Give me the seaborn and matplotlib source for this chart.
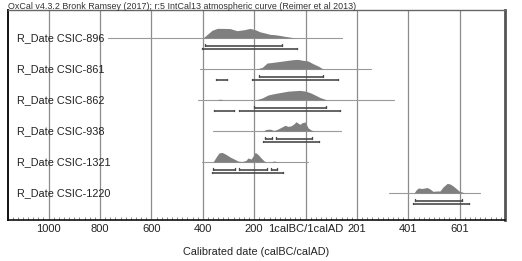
import numpy as np
import pandas as pd
import seaborn as sns
import matplotlib
matplotlib.use("Agg")
import matplotlib.pyplot as plt
from matplotlib.ticker import MultipleLocator

# ---- data (calendar axis: negative = calBC, 0 = 1calBC/1calAD) ----
labels = ["R_Date CSIC-896", "R_Date CSIC-861", "R_Date CSIC-862",
          "R_Date CSIC-938", "R_Date CSIC-1321", "R_Date CSIC-1220"]

dist_years = [
    [-399, -379, -364, -344, -325, -294, -267, -239, -216, -196, -177, -158, -138, -119, -99, -80, -60, -41],
    [-193, -169, -150, -130, -99, -72, -49, -29, -10, 10, 29, 49, 68],
    [-346, -340, -333, -326, -320, -196, -169, -146, -119, -91, -68, -41, -21, -2, 18, 37, 56, 84],
    [-165, -154, -138, -123, -111, -95, -80, -68, -56, -45, -37, -29, -21, -14, -2, 10, 21, 33],
    [-360, -348, -337, -325, -309, -294, -278, -263, -247, -232, -224, -212, -204, -196, -185, -173, -161, -150, -134, -123, -111, -99],
    [422, 430, 438, 453, 473, 484, 496, 512, 523, 535, 551, 562, 574, 586, 597, 609, 620],
]
dist_prob = [
    [0, 0.46, 0.80, 1.0, 1.0, 0.98, 0.76, 0.86, 1.0, 0.86, 0.64, 0.52, 0.38, 0.34, 0.26, 0.17, 0.09, 0],
    [0, 0.16, 0.62, 0.68, 0.79, 0.89, 0.97, 1.0, 0.90, 0.83, 0.55, 0.31, 0],
    [0, 0.06, 0.08, 0.06, 0, 0, 0.21, 0.52, 0.68, 0.81, 0.92, 0.97, 1.0, 0.93, 0.76, 0.52, 0.26, 0],
    [0, 0.16, 0.19, 0.06, 0.16, 0.38, 0.59, 0.48, 0.54, 0.75, 0.97, 0.81, 0.70, 0.86, 0.94, 0.32, 0.11, 0],
    [0, 0.52, 0.94, 1.0, 0.78, 0.52, 0.31, 0.10, 0.05, 0.16, 0.42, 0.31, 0.63, 1.0, 0.78, 0.42, 0.10, 0, 0.03, 0.10, 0.03, 0],
    [0, 0.31, 0.52, 0.47, 0.57, 0.42, 0.17, 0.21, 0.21, 0.63, 1.0, 0.94, 0.73, 0.47, 0.21, 0.10, 0],
]
range68 = [
    [(-391, -91)],
    [(-181, 68)],
    [(-200, 80)],
    [(-158, -132), (-115, 24)],
    [(-360, -274), (-259, -151), (-134, -112)],
    [(426, 608)],
]
range95 = [
    [(-404, -34)],
    [(-348, -307), (-209, 128)],
    [(-356, -277), (-258, 134)],
    [(-167, 54)],
    [(-365, -86)],
    [(417, 637)],
]
baseline_span = [(-768, 142), (-410, 255), (-418, 344), (-360, 138), (-404, 10), (325, 679)]

tick_values = [-1000, -800, -600, -400, -200, 0, 200, 400, 600]
tick_labels = ["1000", "800", "600", "400", "200", "1calBC/1calAD", "201", "401", "601"]
title_text = "OxCal v4.3.2 Bronk Ramsey (2017); r:5 IntCal13 atmospheric curve (Reimer et al 2013)"
xlabel_text = "Calibrated date (calBC/calAD)"

# ---- style ----
sns.set_theme(style="white")
plt.rcParams['font.family'] = ['Liberation Sans', 'DejaVu Sans']

fig = plt.figure(figsize=(5.22, 2.61), dpi=100)
ax = fig.add_axes([8/522, 1-220/261, (505-8)/522, (220-10)/261])

dist_h = 0.31
off68 = 0.245
off95 = 0.37
cap = 0.06

for i, lab in enumerate(labels):
    df = pd.DataFrame({"year": dist_years[i], "p": dist_prob[i]})
    base = i
    # baseline
    bl = pd.DataFrame({"year": list(baseline_span[i]), "y": [base, base]})
    sns.lineplot(data=bl, x="year", y="y", ax=ax, color="#9a9a9a", lw=0.8,
                 estimator=None, sort=False, zorder=2)
    # distribution
    ax.fill_between(df["year"], base, base - df["p"] * dist_h,
                    color="#7f7f7f", lw=0, zorder=3)
    # ranges
    for rr, off in ((range68[i], off68), (range95[i], off95)):
        for (a, b) in rr:
            yy = base + off
            ax.plot([a, b], [yy, yy], color="#4a4a4a", lw=1.2, zorder=4,
                    solid_capstyle="butt")
            ax.plot([a, a], [yy, yy - cap], color="#4a4a4a", lw=1.0, zorder=4)
            ax.plot([b, b], [yy, yy - cap], color="#4a4a4a", lw=1.0, zorder=4)
    ax.text(-1124, base, lab, fontsize=7.8, color="#222222",
            va="center", ha="left", zorder=5)

ax.set_xlim(-1158, 776)
ax.set_ylim(5 + 27/31, -28/31)
ax.set_yticks([])
ax.set_xticks(tick_values)
ax.set_xticklabels(tick_labels, fontsize=8, color="#222222")
ax.xaxis.set_minor_locator(MultipleLocator(20))
ax.tick_params(axis="x", which="major", direction="inout", length=4,
               width=0.8, color="#333333", pad=1)
ax.tick_params(axis="x", which="minor", direction="in", length=2,
               width=0.5, color="#555555", bottom=True)
for t in tick_values:
    ax.axvline(t, color="#8c8c8c", lw=0.9, zorder=1)

ax.set_xlabel(xlabel_text, fontsize=7.8, color="#222222", labelpad=9)
ax.set_ylabel("")

ax.spines["left"].set_color("#111111")
ax.spines["left"].set_linewidth(1.4)
ax.spines["bottom"].set_color("#111111")
ax.spines["bottom"].set_linewidth(1.2)
ax.spines["right"].set_color("#555555")
ax.spines["right"].set_linewidth(2.0)
ax.spines["top"].set_color("#666666")
ax.spines["top"].set_linewidth(1.0)
for s in ax.spines.values():
    s.set_visible(True)

fig.text(8/522, 1-9/261, title_text, fontsize=6.4, color="#333333",
         ha="left", va="baseline")

fig.savefig("out.png", dpi=100, facecolor="white")
